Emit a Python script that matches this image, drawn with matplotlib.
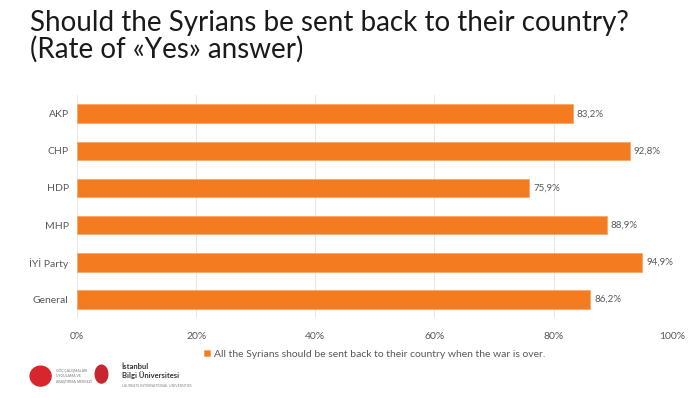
import numpy as np
import matplotlib.pyplot as plt
from matplotlib.patches import Ellipse

parties = ['AKP', 'CHP', 'HDP', 'MHP', 'İYİ Party', 'General']
yes_rate = [83.2, 92.8, 75.9, 88.9, 94.9, 86.2]
ticks = [0, 20, 40, 60, 80, 100]
legend_label = 'All the Syrians should be sent back to their country when the war is over.'

orange = '#F47B20'
gray = '#595959'

plt.rcParams['font.family'] = ['Lato', 'DejaVu Sans']

fig = plt.figure(figsize=(7, 3.98), dpi=100)
ax = fig.add_axes([0.11, 0.201, 0.851, 0.56])

y = np.arange(len(parties))
ax.barh(y, yes_rate, height=0.5, color=orange, edgecolor='#F9A66A', linewidth=0.6,
        label=legend_label)
for yy, v in zip(y, yes_rate):
    ax.text(v + 0.7, yy, ('%.1f%%' % v).replace('.', ','), va='center', ha='left',
            fontsize=7, color=gray)

ax.set_ylim(len(parties) - 0.5, -0.5)
ax.set_xlim(0, 100)
ax.set_yticks(y)
ax.set_yticklabels(parties, fontsize=7.5, color=gray)
ax.set_xticks(ticks)
ax.set_xticklabels(['%d%%' % t for t in ticks], fontsize=7.5, color=gray)
ax.tick_params(length=0, pad=6)
ax.tick_params(axis='x', pad=10)
for s in ax.spines.values():
    s.set_visible(False)
ax.grid(axis='x', color='#E6E6E6', linewidth=0.7)
ax.set_axisbelow(True)

ax.legend(loc='upper center', bbox_to_anchor=(0.5, -0.1), frameon=False, fontsize=7.5,
          handlelength=0.6, handleheight=0.6, handletextpad=0.4, labelcolor=gray)

fig.text(0.043, 0.975, 'Should the Syrians be sent back to their country?\n(Rate of «Yes» answer)',
         fontsize=20, va='top', ha='left', color='#1a1a1a', linespacing=1.0)

# logos footer (approximated)
fig.patches.append(Ellipse((0.058, 0.055), 0.03, 0.05, transform=fig.transFigure,
                           color='#D7262E'))
fig.text(0.08, 0.055, 'GÖÇ ÇALIŞMALARI\nUYGULAMA VE\nARAŞTIRMA MERKEZİ', fontsize=2.5,
         color='#777777', va='center')
fig.patches.append(Ellipse((0.145, 0.06), 0.018, 0.045, transform=fig.transFigure,
                           color='#C8262E'))
fig.text(0.174, 0.068, 'İstanbul\nBilgi Üniversitesi', fontsize=5.5, color='#333333',
         va='center', fontweight='bold', linespacing=1.1)
fig.text(0.174, 0.03, 'LAUREATE INTERNATIONAL UNIVERSITIES', fontsize=2.5, color='#888888',
         va='center')

fig.savefig('out.png', dpi=100)
